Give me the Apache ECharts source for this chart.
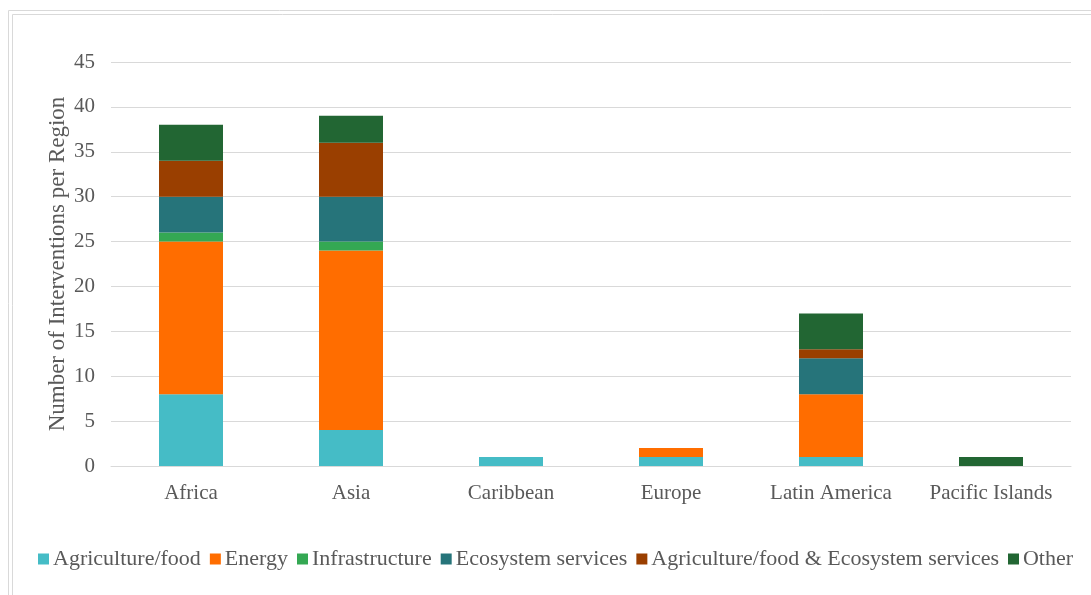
<!DOCTYPE html>
<html><head><meta charset="utf-8">
<script src="https://cdn.jsdelivr.net/npm/echarts@6/dist/echarts.min.js"></script>
<style>html,body{margin:0;padding:0;background:#fff}#c{width:1091px;height:595px}</style>
</head><body><div id="c"></div>
<script>
const categories = ['Africa','Asia','Caribbean','Europe','Latin America','Pacific Islands'];
const seriesNames = ['Agriculture/food','Energy','Infrastructure','Ecosystem services','Agriculture/food & Ecosystem services','Other'];
const agriculture = [8, 4, 1, 1, 1, 0];
const energy = [17, 20, 0, 1, 7, 0];
const infrastructure = [1, 1, 0, 0, 0, 0];
const ecosystem = [4, 5, 0, 0, 4, 0];
const agriEco = [4, 6, 0, 0, 1, 0];
const other = [4, 3, 0, 0, 4, 1];
const colors = ['#45BCC6','#FF6D00','#34A853','#26747A','#9A3F00','#226633'];
const values = [agriculture, energy, infrastructure, ecosystem, agriEco, other];
const font = 'Liberation Serif';
const chart = echarts.init(document.getElementById('c'));
chart.setOption({
  animation: false,
  graphic: [
    {type:'rect', shape:{x:8.5,y:10.5,width:1100,height:600}, style:{fill:'none',stroke:'#d9d9d9',lineWidth:1}},
    {type:'rect', shape:{x:12.5,y:14.5,width:1100,height:600}, style:{fill:'none',stroke:'#d9d9d9',lineWidth:1}}
  ],
  grid: {left:111, right:20, top:62, bottom:129, containLabel:false},
  legend: {
    top: 543, left: 33,
    itemWidth: 11, itemHeight: 11, itemGap: 9,
    icon: 'rect',
    textStyle: {fontFamily: font, fontSize: 22, color: '#595959', padding:[0,0,0,-1]},
    data: seriesNames
  },
  xAxis: {
    type: 'category', data: categories,
    axisLine: {lineStyle:{color:'#d9d9d9'}},
    axisTick: {show:false},
    axisLabel: {fontFamily: font, fontSize: 21, color: '#595959', margin: 17}
  },
  yAxis: {
    type: 'value', min: 0, max: 45, interval: 5,
    name: 'Number of Interventions per Region',
    nameLocation: 'middle', nameGap: 42, nameMoveOverlap: false,
    nameTextStyle: {fontFamily: font, fontSize: 23, color: '#595959'},
    axisLabel: {fontFamily: font, fontSize: 21, color: '#595959', margin: 16},
    splitLine: {lineStyle:{color:'#d9d9d9'}},
    axisLine: {show:false}, axisTick: {show:false}
  },
  series: seriesNames.map((n,i)=>({
    name: n, type: 'bar', stack: 'total', data: values[i],
    barWidth: 64,
    itemStyle: {color: colors[i]}
  }))
});
</script></body></html>
